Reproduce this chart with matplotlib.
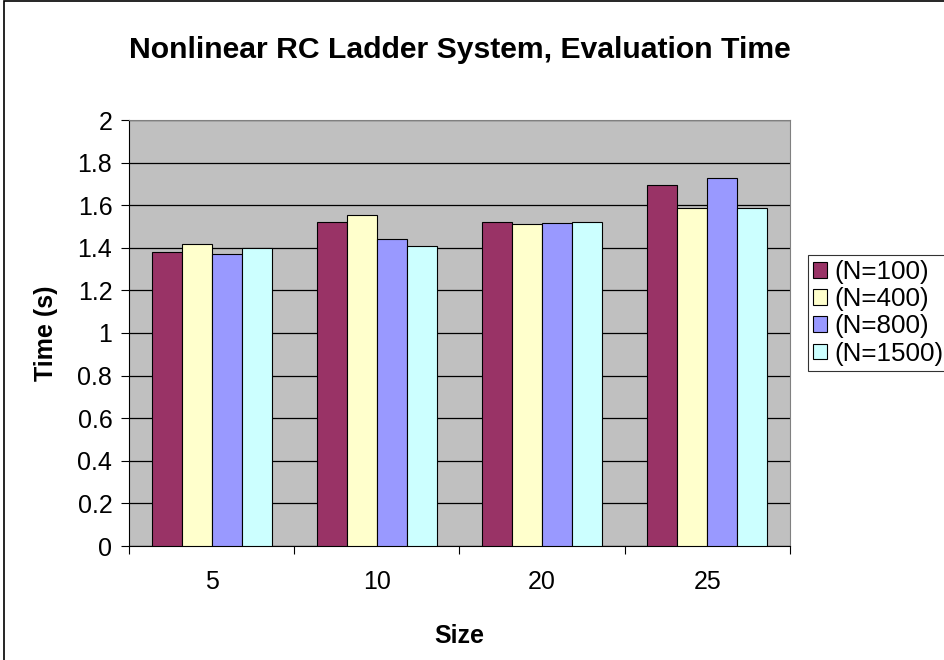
import matplotlib
matplotlib.use("Agg")
import matplotlib.pyplot as plt
import numpy as np
from matplotlib.patches import Rectangle

plt.rcParams['font.family'] = ['Liberation Sans', 'DejaVu Sans']

categories = ["5", "10", "20", "25"]
series_names = ["(N=100)", "(N=400)", "(N=800)", "(N=1500)"]
n100 = [1.38, 1.52, 1.52, 1.695]
n400 = [1.42, 1.555, 1.51, 1.585]
n800 = [1.37, 1.44, 1.515, 1.73]
n1500 = [1.40, 1.41, 1.52, 1.585]
values = [n100, n400, n800, n1500]
colors = ["#993366", "#FFFFCC", "#9999FF", "#CCFFFF"]

W, H = 945, 660
fig = plt.figure(figsize=(W / 100, H / 100), dpi=100)
ax = fig.add_axes([129 / W, (H - 546) / H, (790 - 129) / W, (546 - 120) / H])
ax.set_facecolor("#C0C0C0")

group = 5.5
x = np.arange(len(categories)) * group + group / 2
for i, (vals, c, name) in enumerate(zip(values, colors, series_names)):
    ax.bar(x + (i - 1.5), vals, width=1.0, color=c, edgecolor="black",
           linewidth=0.8, label=name, zorder=3)

ax.set_xlim(0, group * len(categories))
ax.set_ylim(0, 2)
ax.set_yticks(np.arange(0, 2.01, 0.2))
ax.set_yticklabels(["0", "0.2", "0.4", "0.6", "0.8", "1", "1.2", "1.4", "1.6", "1.8", "2"])
ax.yaxis.grid(True, color="black", linewidth=0.9, zorder=1)
ax.set_axisbelow(True)

ax.set_xticks(np.arange(0, group * len(categories) + 0.01, group))
ax.set_xticklabels([])
ax.set_xticks(x, minor=True)
ax.set_xticklabels(categories, minor=True)
ax.tick_params(axis="x", which="minor", length=0, pad=17, labelsize=18)
ax.tick_params(axis="x", which="major", length=6, direction="out", color="black")
ax.tick_params(axis="y", length=6, direction="out", labelsize=18, pad=6)

for s in ["top", "right"]:
    ax.spines[s].set_color("#808080")
for s in ["left", "bottom"]:
    ax.spines[s].set_color("black")

ax.set_xlabel("Size", fontsize=18, fontweight="bold", labelpad=22)
ax.set_ylabel("Time (s)", fontsize=18, fontweight="bold", labelpad=14)
fig.text((129 + 790) / 2 / W, (H - 50) / H, "Nonlinear RC Ladder System, Evaluation Time",
         ha="center", va="center", fontsize=21.7, fontweight="bold")

leg = ax.legend(loc="upper left", bbox_to_anchor=(808 / W, (H - 255) / H),
                bbox_transform=fig.transFigure, fontsize=18.7, frameon=True,
                fancybox=False, edgecolor="black", handlelength=0.55,
                handleheight=0.55, handletextpad=0.25, labelspacing=0.12,
                borderpad=0.2, borderaxespad=0)
leg.get_frame().set_linewidth(0.8)

fig.patches.append(Rectangle((4 / W, -0.1), 1.2, (H - 1) / H + 0.1,
                             transform=fig.transFigure, fill=False,
                             edgecolor="black", linewidth=1.2))

fig.savefig("out.png", dpi=100)
